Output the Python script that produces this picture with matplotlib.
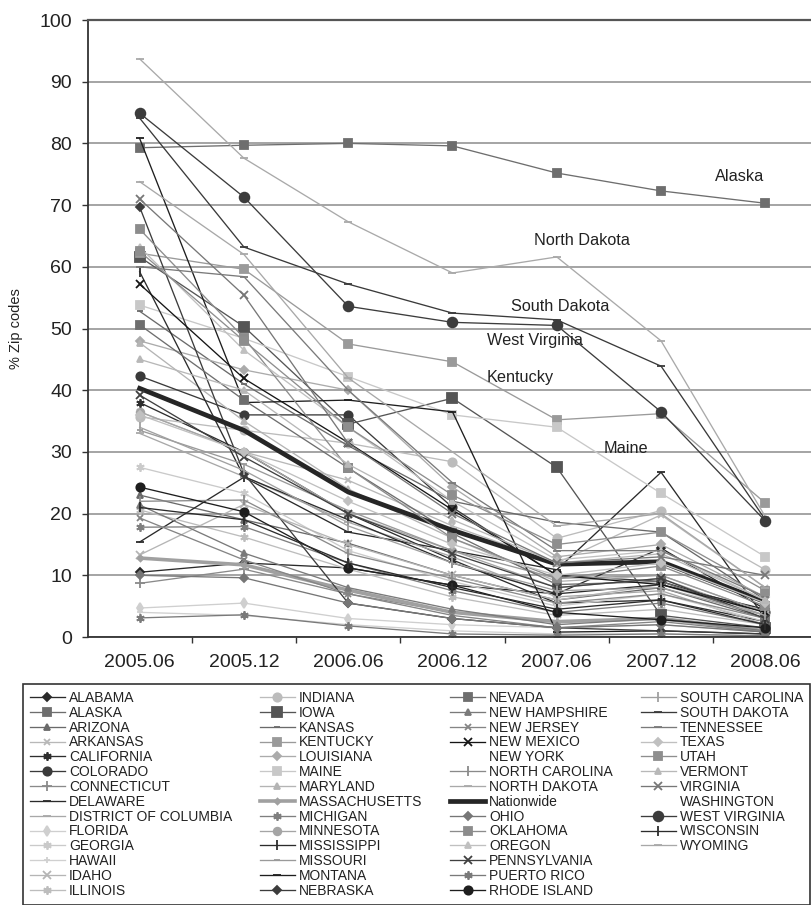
import matplotlib.pyplot as plt
from matplotlib.lines import Line2D

plt.rcParams['font.family'] = ['Liberation Sans', 'DejaVu Sans']

periods = ['2005.06', '2005.12', '2006.06', '2006.12', '2007.06', '2007.12', '2008.06']

# % of zip codes, one list per state (same order as the legend)
alabama = [10.5, 12.0, 11.2, 8.4, 7.0, 14.4, 4.5]
alaska = [79.3, 79.7, 80.0, 79.6, 75.2, 72.3, 70.3]
arizona = [23.0, 19.0, 15.2, 10.0, 6.0, 8.0, 3.0]
arkansas = [36.5, 30.0, 25.4, 18.0, 12.0, 19.8, 8.0]
california = [38.0, 30.0, 20.0, 12.5, 5.5, 6.0, 2.5]
colorado = [42.3, 36.0, 36.0, 21.0, 10.0, 9.0, 4.0]
connecticut = [8.7, 11.0, 7.0, 4.0, 2.5, 3.0, 1.0]
delaware = [15.4, 25.9, 17.0, 14.0, 10.9, 26.7, 3.0]
district_of_columbia = [33.0, 26.0, 18.6, 13.0, 6.5, 7.5, 2.0]
florida = [4.7, 5.5, 3.0, 2.0, 1.5, 2.0, 0.8]
georgia = [27.5, 23.3, 14.0, 9.0, 5.0, 7.0, 2.5]
hawaii = [4.0, 3.5, 2.0, 1.0, 0.5, 0.5, 0.2]
idaho = [13.3, 21.5, 15.0, 10.0, 6.0, 8.5, 3.5]
illinois = [20.6, 16.2, 11.0, 6.5, 3.5, 4.5, 2.0]
indiana = [35.7, 33.5, 31.4, 28.4, 16.0, 20.5, 10.9]
iowa = [61.6, 50.3, 34.5, 38.7, 27.5, 3.5, 1.5]
kansas = [52.8, 41.0, 31.0, 22.0, 18.6, 17.0, 6.0]
kentucky = [62.2, 59.6, 47.5, 44.6, 35.2, 36.2, 21.7]
louisiana = [48.0, 43.3, 40.0, 24.3, 13.0, 15.0, 6.5]
maine = [53.8, 48.4, 42.2, 36.0, 34.0, 23.3, 13.0]
maryland = [47.7, 35.0, 24.0, 16.0, 9.0, 10.0, 4.0]
massachusetts = [12.8, 11.7, 7.6, 4.0, 2.5, 3.0, 1.0]
michigan = [17.8, 17.9, 12.0, 7.5, 4.0, 5.5, 2.0]
minnesota = [36.5, 30.0, 20.0, 14.0, 8.0, 9.5, 3.5]
mississippi = [59.2, 26.0, 19.0, 12.0, 7.0, 8.5, 4.5]
missouri = [33.5, 28.0, 20.5, 14.0, 9.5, 10.0, 4.0]
montana = [80.8, 38.0, 38.4, 36.5, 0.8, 1.0, 0.5]
nebraska = [69.7, 26.5, 5.5, 3.0, 1.5, 1.0, 0.5]
nevada = [50.6, 38.4, 27.4, 16.8, 8.5, 9.0, 3.0]
new_hampshire = [21.4, 13.6, 8.0, 4.5, 2.0, 3.0, 1.0]
new_jersey = [19.3, 12.5, 7.0, 3.5, 1.5, 2.5, 0.8]
new_mexico = [57.2, 41.9, 31.5, 20.6, 10.0, 8.5, 4.0]
new_york = [14.0, 10.0, 6.0, 3.5, 2.0, 2.5, 1.0]
north_carolina = [22.0, 22.2, 13.5, 9.5, 5.5, 7.0, 3.0]
north_dakota = [93.7, 77.6, 67.3, 59.0, 61.6, 48.0, 19.5]
nationwide = [40.3, 33.5, 23.5, 17.3, 11.8, 12.2, 5.7]
ohio = [10.0, 9.6, 5.5, 3.0, 1.5, 2.0, 0.8]
oklahoma = [66.1, 48.5, 27.4, 16.0, 9.5, 11.5, 5.0]
oregon = [63.2, 46.5, 34.0, 22.0, 12.5, 14.0, 6.0]
pennsylvania = [39.2, 29.2, 20.0, 13.5, 8.0, 9.5, 3.0]
puerto_rico = [3.1, 3.6, 1.8, 0.5, 0.3, 0.5, 0.2]
rhode_island = [24.3, 20.3, 11.2, 8.4, 4.0, 2.8, 1.5]
south_carolina = [34.0, 27.0, 18.0, 12.0, 7.5, 8.0, 3.5]
south_dakota = [84.1, 63.2, 57.2, 52.5, 51.4, 43.9, 19.0]
tennessee = [60.0, 58.4, 40.0, 25.0, 14.0, 14.0, 6.5]
texas = [36.0, 30.0, 22.0, 15.0, 10.0, 12.0, 5.5]
utah = [62.5, 48.0, 34.0, 23.0, 15.0, 17.0, 7.5]
vermont = [45.0, 40.0, 28.0, 19.0, 12.0, 13.5, 6.0]
virginia = [71.0, 55.4, 31.4, 20.0, 12.0, 13.0, 10.0]
washington = [18.0, 13.0, 8.0, 5.0, 3.0, 3.5, 1.5]
west_virginia = [84.9, 71.3, 53.6, 51.0, 50.5, 36.5, 18.8]
wisconsin = [21.0, 19.0, 12.0, 8.0, 4.5, 6.0, 2.0]
wyoming = [73.8, 62.0, 42.0, 30.0, 18.0, 20.0, 8.0]

series = [
    ('ALABAMA', alabama), ('ALASKA', alaska), ('ARIZONA', arizona),
    ('ARKANSAS', arkansas), ('CALIFORNIA', california), ('COLORADO', colorado),
    ('CONNECTICUT', connecticut), ('DELAWARE', delaware),
    ('DISTRICT OF COLUMBIA', district_of_columbia), ('FLORIDA', florida),
    ('GEORGIA', georgia), ('HAWAII', hawaii), ('IDAHO', idaho),
    ('ILLINOIS', illinois), ('INDIANA', indiana), ('IOWA', iowa),
    ('KANSAS', kansas), ('KENTUCKY', kentucky), ('LOUISIANA', louisiana),
    ('MAINE', maine), ('MARYLAND', maryland), ('MASSACHUSETTS', massachusetts),
    ('MICHIGAN', michigan), ('MINNESOTA', minnesota), ('MISSISSIPPI', mississippi),
    ('MISSOURI', missouri), ('MONTANA', montana), ('NEBRASKA', nebraska),
    ('NEVADA', nevada), ('NEW HAMPSHIRE', new_hampshire), ('NEW JERSEY', new_jersey),
    ('NEW MEXICO', new_mexico), ('NEW YORK', new_york),
    ('NORTH CAROLINA', north_carolina), ('NORTH DAKOTA', north_dakota),
    ('Nationwide', nationwide), ('OHIO', ohio), ('OKLAHOMA', oklahoma),
    ('OREGON', oregon), ('PENNSYLVANIA', pennsylvania), ('PUERTO RICO', puerto_rico),
    ('RHODE ISLAND', rhode_island), ('SOUTH CAROLINA', south_carolina),
    ('SOUTH DAKOTA', south_dakota), ('TENNESSEE', tennessee), ('TEXAS', texas),
    ('UTAH', utah), ('VERMONT', vermont), ('VIRGINIA', virginia),
    ('WASHINGTON', washington), ('WEST VIRGINIA', west_virginia),
    ('WISCONSIN', wisconsin), ('WYOMING', wyoming),
]

# labelled lines: text, x position (category index), y position
callouts = [('Alaska', 5.75, 74.7), ('North Dakota', 4.24, 64.2),
            ('South Dakota', 4.03, 53.5), ('West Virginia', 3.79, 48.0),
            ('Kentucky', 3.65, 42.1), ('Maine', 4.66, 30.5)]

ast = (6, 2, 0)
# colour, marker, marker size
style = {
    'ALABAMA': ('#2a2a2a', 'D', 4), 'ALASKA': ('#6e6e6e', 's', 6),
    'ARIZONA': ('#6a6a6a', '^', 5), 'ARKANSAS': ('#b8b8b8', 'x', 5),
    'CALIFORNIA': ('#2e2e2e', ast, 6), 'COLORADO': ('#3a3a3a', 'o', 6),
    'CONNECTICUT': ('#8a8a8a', '+', 7), 'DELAWARE': ('#2a2a2a', '_', 6),
    'DISTRICT OF COLUMBIA': ('#a8a8a8', '_', 6), 'FLORIDA': ('#cfcfcf', 'd', 5),
    'GEORGIA': ('#cacaca', ast, 6), 'HAWAII': ('#d0d0d0', '+', 5),
    'IDAHO': ('#b5b5b5', 'x', 6), 'ILLINOIS': ('#bdbdbd', ast, 6),
    'INDIANA': ('#bcbcbc', 'o', 6), 'IOWA': ('#555555', 's', 7),
    'KANSAS': ('#6a6a6a', '_', 5), 'KENTUCKY': ('#9a9a9a', 's', 6),
    'LOUISIANA': ('#ababab', 'D', 4.5), 'MAINE': ('#c8c8c8', 's', 6),
    'MARYLAND': ('#b4b4b4', '^', 5), 'MASSACHUSETTS': ('#a0a0a0', 'D', 3),
    'MICHIGAN': ('#7f7f7f', ast, 6), 'MINNESOTA': ('#a5a5a5', 'o', 5.5),
    'MISSISSIPPI': ('#2c2c2c', '|', 7), 'MISSOURI': ('#9a9a9a', '_', 5),
    'MONTANA': ('#1e1e1e', '_', 6), 'NEBRASKA': ('#3c3c3c', 'D', 4.5),
    'NEVADA': ('#6e6e6e', 's', 6), 'NEW HAMPSHIRE': ('#7a7a7a', '^', 5),
    'NEW JERSEY': ('#858585', 'x', 5), 'NEW MEXICO': ('#151515', 'x', 6),
    'NEW YORK': ('none', 'none', 0), 'NORTH CAROLINA': ('#8a8a8a', '|', 7),
    'NORTH DAKOTA': ('#a9a9a9', '_', 6), 'Nationwide': ('#262626', 'none', 0),
    'OHIO': ('#767676', 'D', 4.5), 'OKLAHOMA': ('#8c8c8c', 's', 6),
    'OREGON': ('#c0c0c0', '^', 5), 'PENNSYLVANIA': ('#404040', 'x', 5.5),
    'PUERTO RICO': ('#7a7a7a', ast, 6), 'RHODE ISLAND': ('#1e1e1e', 'o', 6),
    'SOUTH CAROLINA': ('#a0a0a0', '|', 7), 'SOUTH DAKOTA': ('#3a3a3a', '_', 6),
    'TENNESSEE': ('#7a7a7a', '_', 6), 'TEXAS': ('#c0c0c0', 'D', 4.5),
    'UTAH': ('#8e8e8e', 's', 6), 'VERMONT': ('#b8b8b8', '^', 5),
    'VIRGINIA': ('#777777', 'x', 5.5), 'WASHINGTON': ('none', 'none', 0),
    'WEST VIRGINIA': ('#3c3c3c', 'o', 7), 'WISCONSIN': ('#2c2c2c', '|', 7),
    'WYOMING': ('#a8a8a8', '_', 6),
}
widths = {'Nationwide': 3.4, 'MASSACHUSETTS': 2.6}

fig = plt.figure(figsize=(8.11, 9.05), dpi=100)
ax = fig.add_axes([0.1079, 0.2961, 0.9001, 0.6818])

x = list(range(len(periods)))
for name, vals in series:
    col, mk, ms = style[name]
    ls = 'none' if col == 'none' else '-'
    ax.plot(x, vals, color=col, marker=mk, markersize=ms, markeredgewidth=1.3,
            lw=widths.get(name, 0.95), ls=ls, label=name)

for txt, cx, cy in callouts:
    ax.text(cx, cy, txt, ha='center', va='center', fontsize=11.7, color='#222222')

ax.set_xlim(-0.5, len(periods) - 0.5)
ax.set_ylim(0, 100)
ax.set_xticks(x)
ax.set_xticklabels(periods)
ax.set_xticks([i + 0.5 for i in x[:-1]], minor=True)
ax.tick_params(axis='x', which='major', length=0, pad=12, labelsize=14, colors='#222222')
ax.tick_params(axis='x', which='minor', length=4, width=1, color='#333333')
ax.set_yticks(range(0, 101, 10))
ax.tick_params(axis='y', length=4, width=1, pad=7, labelsize=14,
               colors='#222222', color='#333333')
ax.set_ylabel('% Zip codes', fontsize=10.5, color='#222222', labelpad=12)

ax.yaxis.grid(True, color='#8c8c8c', lw=1.1)
ax.set_axisbelow(True)
ax.spines['right'].set_visible(False)
ax.spines['top'].set_color('#555555')
ax.spines['top'].set_linewidth(1.6)
for s in ('left', 'bottom'):
    ax.spines[s].set_color('#333333')
    ax.spines[s].set_linewidth(1.3)

handles, labels = ax.get_legend_handles_labels()
# pad so the last column holds the remainder (14 per column)
for _ in range(3):
    handles.append(Line2D([], [], ls='none', marker='none'))
    labels.append('')
leg = fig.legend(handles, labels, loc='upper left', ncol=4, mode='expand',
                 bbox_to_anchor=(0.0284, 0.0, 0.9704, 0.2442), borderaxespad=0,
                 fontsize=10, handlelength=2.5, handletextpad=0.3,
                 labelspacing=0.06, borderpad=0.5, numpoints=1,
                 fancybox=False, framealpha=1, edgecolor='#333333')
leg.get_frame().set_linewidth(1.2)
for t in leg.get_texts():
    t.set_color('#222222')

fig.savefig('out.png', dpi=100)
